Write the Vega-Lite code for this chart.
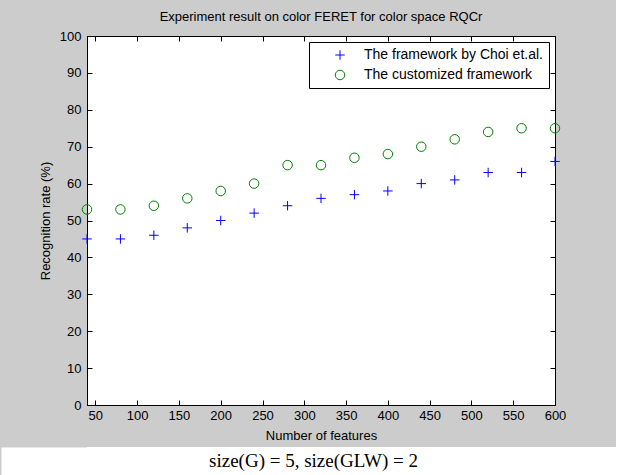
{
  "$schema": "https://vega.github.io/schema/vega-lite/v6.json",
  "background": "#cccccc",
  "padding": {"left": 0, "right": 0, "top": 10, "bottom": 0},
  "spacing": 4,
  "resolve": {"legend": {"color": "independent", "shape": "independent"}},
  "config": {
    "font": "Liberation Sans",
    "axis": {"labelFont": "Liberation Sans", "labelFontSize": 13, "labelColor": "#000", "titleFont": "Liberation Sans", "titleFontSize": 13, "titleFontWeight": "normal", "titleColor": "#000", "domainColor": "#000", "tickColor": "#000", "grid": false, "labelFlush": false},
    "title": {"font": "Liberation Sans", "fontSize": 13, "fontWeight": "normal", "color": "#000"}
  },
  "vconcat": [
    {
      "width": 468,
      "height": 369,
      "title": {"text": "Experiment result on color FERET for color space RQCr", "offset": 6},
      "view": {"fill": "white", "stroke": "#000", "strokeWidth": 1},
      "data": {
        "values": [
          {"features": 40, "rate": 45, "method": "The framework by Choi et.al."},
          {"features": 80, "rate": 45, "method": "The framework by Choi et.al."},
          {"features": 120, "rate": 46, "method": "The framework by Choi et.al."},
          {"features": 160, "rate": 48, "method": "The framework by Choi et.al."},
          {"features": 200, "rate": 50, "method": "The framework by Choi et.al."},
          {"features": 240, "rate": 52, "method": "The framework by Choi et.al."},
          {"features": 280, "rate": 54, "method": "The framework by Choi et.al."},
          {"features": 320, "rate": 56, "method": "The framework by Choi et.al."},
          {"features": 360, "rate": 57, "method": "The framework by Choi et.al."},
          {"features": 400, "rate": 58, "method": "The framework by Choi et.al."},
          {"features": 440, "rate": 60, "method": "The framework by Choi et.al."},
          {"features": 480, "rate": 61, "method": "The framework by Choi et.al."},
          {"features": 520, "rate": 63, "method": "The framework by Choi et.al."},
          {"features": 560, "rate": 63, "method": "The framework by Choi et.al."},
          {"features": 600, "rate": 66, "method": "The framework by Choi et.al."},
          {"features": 40, "rate": 53, "method": "The customized framework"},
          {"features": 80, "rate": 53, "method": "The customized framework"},
          {"features": 120, "rate": 54, "method": "The customized framework"},
          {"features": 160, "rate": 56, "method": "The customized framework"},
          {"features": 200, "rate": 58, "method": "The customized framework"},
          {"features": 240, "rate": 60, "method": "The customized framework"},
          {"features": 280, "rate": 65, "method": "The customized framework"},
          {"features": 320, "rate": 65, "method": "The customized framework"},
          {"features": 360, "rate": 67, "method": "The customized framework"},
          {"features": 400, "rate": 68, "method": "The customized framework"},
          {"features": 440, "rate": 70, "method": "The customized framework"},
          {"features": 480, "rate": 72, "method": "The customized framework"},
          {"features": 520, "rate": 74, "method": "The customized framework"},
          {"features": 560, "rate": 75, "method": "The customized framework"},
          {"features": 600, "rate": 75, "method": "The customized framework"}
        ]
      },
      "encoding": {
        "color": {
          "field": "method", "type": "nominal",
          "scale": {"domain": ["The framework by Choi et.al.", "The customized framework"], "range": ["#0000ff", "#008000"]},
          "legend": {"title": null, "orient": "top-right", "offset": 6, "fillColor": "white", "strokeColor": "#000", "padding": 6, "labelFont": "Liberation Sans", "labelFontSize": 14, "labelColor": "#000", "symbolSize": 90, "symbolStrokeWidth": 1, "symbolOffset": 18, "labelOffset": 17, "rowPadding": 6, "labelLimit": 300}
        },
        "shape": {
          "field": "method", "type": "nominal",
          "scale": {"domain": ["The framework by Choi et.al.", "The customized framework"], "range": ["M-1,0L1,0M0,-1L0,1", "circle"]}
        }
      },
      "layer": [
        {
          "transform": [{"filter": "datum.method == 'The framework by Choi et.al.'"}],
          "mark": {"type": "point", "filled": false, "size": 90, "strokeWidth": 1, "opacity": 1},
          "encoding": {
            "x": {"field": "features", "type": "quantitative", "scale": {"domain": [40, 600], "nice": false, "zero": false},
                  "axis": {"orient": "bottom", "values": [50, 100, 150, 200, 250, 300, 350, 400, 450, 500, 550, 600], "tickSize": -5, "labelPadding": 9, "title": "Number of features", "titlePadding": 7}},
            "y": {"field": "rate", "type": "quantitative", "scale": {"domain": [0, 100], "nice": false},
                  "axis": {"orient": "left", "values": [0, 10, 20, 30, 40, 50, 60, 70, 80, 90, 100], "tickSize": -5, "labelPadding": 11, "minExtent": 86, "title": "Recognition rate (%)", "titleX": -38, "titleY": 184.5, "titleAngle": 270, "titleAlign": "center", "titleBaseline": "alphabetic"}}
          }
        },
        {
          "transform": [{"filter": "datum.method == 'The customized framework'"}],
          "mark": {"type": "point", "filled": false, "size": 90, "strokeWidth": 1, "opacity": 1},
          "encoding": {
            "x": {"field": "features", "type": "quantitative",
                  "axis": {"orient": "top", "values": [50, 100, 150, 200, 250, 300, 350, 400, 450, 500, 550, 600], "tickSize": -5, "labels": false, "domain": false, "title": null}},
            "y": {"field": "rate", "type": "quantitative",
                  "axis": {"orient": "right", "values": [0, 10, 20, 30, 40, 50, 60, 70, 80, 90, 100], "tickSize": -5, "labels": false, "domain": false, "title": null}}
          }
        }
      ],
      "resolve": {"axis": {"x": "independent", "y": "independent"}}
    },
    {
      "width": 529,
      "height": 30,
      "view": {"fill": "white", "stroke": null},
      "data": {"values": [{"caption": "size(G) = 5, size(GLW) = 2"}]},
      "mark": {"type": "text", "font": "Liberation Serif", "fontSize": 19, "color": "#000", "dx": -38, "dy": -1},
      "encoding": {
        "text": {"field": "caption", "type": "nominal"},
        "y": {"field": "caption", "type": "nominal", "axis": {"orient": "left", "labels": false, "ticks": false, "title": null, "domain": true, "domainColor": "white", "domainWidth": 172, "minExtent": 0}}
      }
    }
  ]
}
